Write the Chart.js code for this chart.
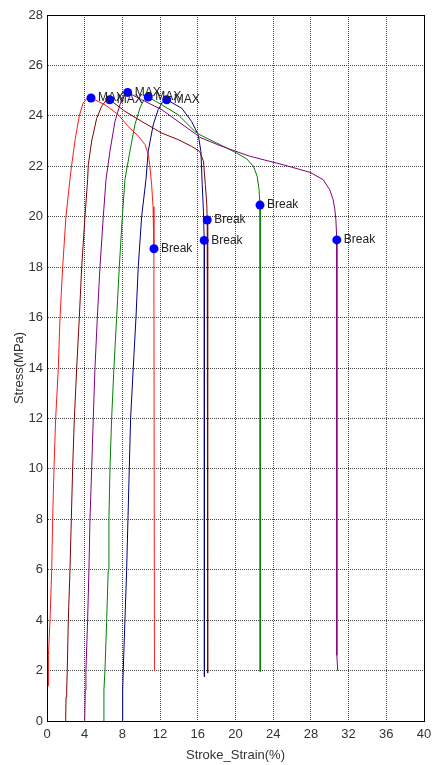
<!DOCTYPE html>
<html>
<head>
<meta charset="utf-8">
<title>Stress - Stroke Strain</title>
<script src="https://cdn.jsdelivr.net/npm/chart.js@4.4.1/dist/chart.umd.min.js"></script>
<style>
  html, body { margin: 0; padding: 0; background: #fff; }
  #wrap { width: 433px; height: 765px; }
</style>
</head>
<body>
<div id="wrap"><canvas id="stressChart" width="433" height="765"></canvas></div>
<script>
// Axis ticks
const xTicks = [0, 4, 8, 12, 16, 20, 24, 28, 32, 36, 40];
const yTicks = [0, 2, 4, 6, 8, 10, 12, 14, 16, 18, 20, 22, 24, 26, 28];

// Specimen 1 (red)
const redStrain = [0, 0, 0.12, 0.15, 0.32, 0.5, 0.6, 0.74, 0.92, 1.2, 1.38, 1.66, 2.01, 2.44, 2.6, 3.0, 3.43, 3.82, 4.2, 4.67,
  6.15, 7.56, 8.6, 9.7, 10.4, 10.75, 10.9, 11.1, 11.25, 11.33, 11.35, 11.4];
const redStress = [0, 1.3, 1.4, 2.6, 4, 6, 8, 10, 12, 14, 16, 18, 20, 21.5, 22, 23.1, 24, 24.5, 24.68, 24.71,
  24.44, 24.05, 23.58, 23.19, 22.86, 22.46, 22.06, 21.27, 20.4, 19.5, 18.73, 2.0];

// Specimen 2 (maroon)
const maroonStrain = [1.98, 2.02, 2.09, 2.15, 2.26, 2.44, 2.58, 2.72, 2.9, 3.15, 3.43, 3.68, 4.03, 4.31, 4.38, 4.74, 5.27, 5.8, 6.2, 6.65,
  8.27, 10.04, 12.16, 13.9, 15.34, 16.2, 16.6, 16.8, 16.95, 17.0, 17.05];
const maroonStress = [0, 0.95, 1.23, 2, 4, 6, 8, 10, 12, 14, 16, 18, 20, 21.47, 22.06, 23.0, 23.9, 24.38, 24.58, 24.64,
  24.18, 23.78, 23.32, 23.06, 22.79, 22.59, 22.2, 21.27, 20.5, 19.87, 1.9];

// Specimen 3 (purple)
const purpleStrain = [4.0, 4.06, 4.13, 4.31, 4.45, 4.56, 4.74, 4.91, 5.09, 5.34, 5.62, 5.97, 6.26, 6.68, 7.21, 7.74, 8.1, 8.56,
  10.04, 12.16, 13.9, 15.7, 16.2, 18.35, 21.5, 25.06, 27.9, 29.3, 30.0, 30.36, 30.54, 30.65, 30.75, 30.75, 30.85];
const purpleStress = [0, 1.23, 2, 4, 6, 8, 10, 12, 14, 16, 18, 20, 21.47, 22.6, 23.78, 24.44, 24.8, 24.93,
  24.64, 24.25, 23.78, 23.3, 23.15, 22.82, 22.4, 22.06, 21.76, 21.47, 21.07, 20.67, 20.28, 19.88, 19.08, 2.6, 2.0];

// Specimen 4 (green)
const greenStrain = [6.0, 6.04, 6.15, 6.33, 6.5, 6.57, 6.68, 6.86, 7.1, 7.39, 7.67, 7.99, 8.27, 8.8, 9.33, 9.86, 10.3, 10.74,
  12.16, 13.9, 15.7, 16.22, 18.35, 20.1, 21.2, 21.9, 22.3, 22.5, 22.6, 22.62];
const greenStress = [0, 1.23, 2, 4, 6, 8, 10, 12, 14, 16, 18, 20, 21.47, 22.6, 23.65, 24.31, 24.65, 24.75,
  24.44, 24.05, 23.38, 23.25, 22.86, 22.53, 22.29, 22.0, 21.6, 21.07, 20.46, 1.96];

// Specimen 5 (blue)
const blueStrain = [8.0, 8.03, 8.09, 8.27, 8.45, 8.59, 8.73, 8.87, 9.15, 9.44, 9.68, 10.04, 10.5, 10.74, 11.27, 11.8, 12.25, 12.7,
  14.3, 15.34, 16.04, 16.33, 16.47, 16.6, 16.68, 16.7];
const blueStress = [0, 1.23, 2, 4, 6, 8, 10, 12, 14, 16, 18, 20, 21.47, 22.6, 23.65, 24.25, 24.55, 24.64,
  24.3, 23.78, 23.25, 22.59, 21.27, 20.2, 19.06, 1.76];

// Marked points
const maxStrain = [4.67, 6.65, 8.56, 10.74, 12.7];
const maxStress = [24.71, 24.64, 24.93, 24.75, 24.64];
const breakStrain = [11.35, 17.0, 16.68, 22.6, 30.75];
const breakStress = [18.73, 19.87, 19.06, 20.46, 19.08];

const FONT = "'Liberation Sans', Arial, sans-serif";

function toPoints(xs, ys) {
  return xs.map((x, i) => ({ x: x, y: ys[i] }));
}

function curve(label, xs, ys, color) {
  return {
    label: label,
    data: toPoints(xs, ys),
    showLine: true,
    borderColor: color,
    borderWidth: 1,
    pointRadius: 0,
    tension: 0,
  };
}

function marker(label, xs, ys, tag) {
  return {
    label: label,
    data: toPoints(xs, ys),
    tag: tag,
    showLine: false,
    pointRadius: 4.5,
    pointBackgroundColor: "#0000ff",
    pointBorderWidth: 0,
  };
}

// no label overhang, the plot box is set by layout padding alone
function noOverhang(s) {
  s.paddingLeft = 0;
  s.paddingRight = 0;
  s.paddingTop = 0;
  s.paddingBottom = 0;
}

// Text next to the MAX / Break markers
const markerText = {
  id: "markerText",
  afterDatasetsDraw(chart) {
    const ctx = chart.ctx;
    ctx.save();
    ctx.font = "12px " + FONT;
    ctx.fillStyle = "#222";
    ctx.textBaseline = "middle";
    chart.data.datasets.forEach((ds, i) => {
      if (!ds.tag) return;
      chart.getDatasetMeta(i).data.forEach(pt => {
        ctx.fillText(ds.tag, pt.x + 7, pt.y);
      });
    });
    ctx.restore();
  },
};

// Closed box around the plot area
const frame = {
  id: "frame",
  afterDraw(chart) {
    const a = chart.chartArea;
    const ctx = chart.ctx;
    ctx.save();
    ctx.strokeStyle = "#000";
    ctx.lineWidth = 1;
    ctx.strokeRect(Math.round(a.left) + 0.5, Math.round(a.top) + 0.5,
      Math.round(a.right - a.left), Math.round(a.bottom - a.top));
    ctx.restore();
  },
};

const ctx = document.getElementById("stressChart").getContext("2d");
const stressChart = new Chart(ctx, {
  type: "scatter",
  data: {
    datasets: [
      marker("MAX", maxStrain, maxStress, "MAX"),
      marker("Break", breakStrain, breakStress, "Break"),
      curve("1", redStrain, redStress, "#ff1a1a"),
      curve("2", maroonStrain, maroonStress, "#800000"),
      curve("3", purpleStrain, purpleStress, "#800080"),
      curve("4", greenStrain, greenStress, "#008000"),
      curve("5", blueStrain, blueStress, "#000080"),
    ],
  },
  options: {
    responsive: false,
    animation: false,
    layout: { padding: { top: 15, right: 9, left: 0, bottom: 0 } },
    plugins: {
      legend: { display: false },
      tooltip: { enabled: false },
    },
    scales: {
      x: {
        type: "linear",
        min: 0,
        max: 40,
        afterBuildTicks: s => { s.ticks = xTicks.map(v => ({ value: v })); },
        afterFit: s => { s.height = 44; noOverhang(s); },
        grid: { color: "#444", drawTicks: false },
        border: { color: "#000", width: 1, dash: [1, 1] },
        ticks: { color: "#333", padding: 6, font: { family: FONT, size: 13 } },
        title: {
          display: true,
          text: "Stroke_Strain(%)",
          color: "#333",
          padding: { top: 0, bottom: 2 },
          font: { family: FONT, size: 13 },
        },
      },
      y: {
        type: "linear",
        min: 0,
        max: 28,
        afterBuildTicks: s => { s.ticks = yTicks.map(v => ({ value: v })); },
        afterFit: s => { s.width = 47; noOverhang(s); },
        grid: { color: "#444", drawTicks: false },
        border: { color: "#000", width: 1, dash: [1, 1] },
        ticks: { color: "#333", padding: 4, font: { family: FONT, size: 13 } },
        title: {
          display: true,
          text: "Stress(MPa)",
          color: "#333",
          padding: { top: 12, bottom: 0 },
          font: { family: FONT, size: 13 },
        },
      },
    },
  },
  plugins: [markerText, frame],
});
</script>
</body>
</html>
